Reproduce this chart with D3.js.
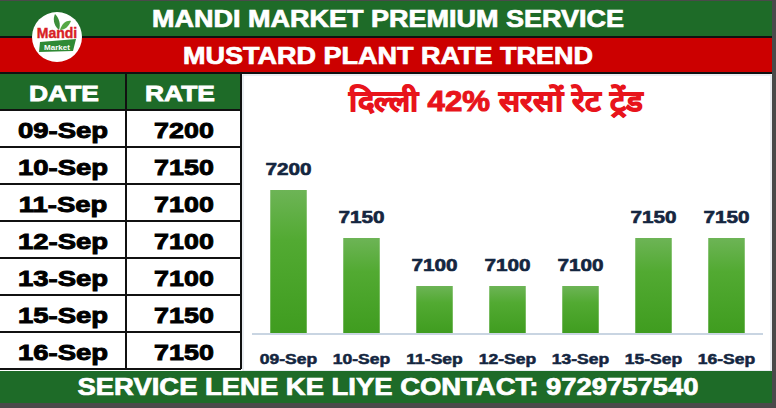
<!DOCTYPE html>
<html>
<head>
<meta charset="utf-8">
<script src="https://d3js.org/d3.v7.min.js"></script>
<style>
  body { margin: 0; background: #fff; }
  svg { display: block; font-family: "Liberation Sans", Arial, sans-serif; }
</style>
</head>
<body>
<svg width="776" height="408"></svg>
<script>
// data
var dates = ["09-Sep", "10-Sep", "11-Sep", "12-Sep", "13-Sep", "15-Sep", "16-Sep"];
var rates = [7200, 7150, 7100, 7100, 7100, 7150, 7150];
var yDomain = [7050, 7250];

var titleTop = "MANDI MARKET PREMIUM SERVICE",
    titleSub = "MUSTARD PLANT RATE TREND",
    chartTitle = "दिल्ली 42% सरसों रेट ट्रेंड",
    footer = "SERVICE LENE KE LIYE CONTACT: 9729757540";

var svg = d3.select("svg");
var green = "#1e6b28", red = "#cc0000";

// the original uses a wide, black-weight face; stretch bold text and thicken it
function heavy(sel, factor, sw) {
  sel.each(function() {
    var w = this.getComputedTextLength();
    d3.select(this).attr("textLength", w * factor).attr("lengthAdjust", "spacingAndGlyphs");
  });
  sel.attr("stroke", function() { return d3.select(this).attr("fill"); })
     .attr("stroke-width", sw).attr("paint-order", "stroke");
  return sel;
}

// frame
svg.append("rect").attr("width", 776).attr("height", 408).attr("fill", "#4a4a4a");
svg.append("rect").attr("x", 0).attr("y", 1).attr("width", 772).attr("height", 402).attr("fill", "#fff");

// header bands
svg.append("rect").attr("x", 0).attr("y", 1).attr("width", 772).attr("height", 35).attr("fill", green);
svg.append("rect").attr("x", 0).attr("y", 36).attr("width", 772).attr("height", 2).attr("fill", "#111");
svg.append("rect").attr("x", 0).attr("y", 38).attr("width", 772).attr("height", 35).attr("fill", red);
svg.append("rect").attr("x", 0).attr("y", 72).attr("width", 772).attr("height", 2).attr("fill", "#111");

svg.append("text").attr("x", 388).attr("y", 27).attr("text-anchor", "middle")
  .attr("fill", "#fff").attr("font-weight", "bold").attr("font-size", 23)
  .attr("stroke", "#fff").attr("stroke-width", 0.7)
  .attr("textLength", 472).attr("lengthAdjust", "spacingAndGlyphs")
  .text(titleTop);
svg.append("text").attr("x", 388).attr("y", 64).attr("text-anchor", "middle")
  .attr("fill", "#fff").attr("font-weight", "bold").attr("font-size", 23)
  .attr("stroke", "#fff").attr("stroke-width", 0.7)
  .attr("textLength", 410).attr("lengthAdjust", "spacingAndGlyphs")
  .text(titleSub);

// logo
var logo = svg.append("g").attr("transform", "translate(57,37)");
logo.append("circle").attr("r", 25).attr("fill", "#fff");
logo.append("path").attr("d", "M2,-7 C-4,-12 -4,-19 -2,-23 C2,-19 4,-13 2,-7Z").attr("fill", "#3b8e3a");
logo.append("path").attr("d", "M3,-7 C5,-14 10,-17 14,-16 C12,-11 8,-7 3,-7Z").attr("fill", "#56a845");
logo.append("text").attr("x", 0).attr("y", 1).attr("text-anchor", "middle")
  .attr("fill", "#d81f26").attr("font-weight", "bold").attr("font-size", 14)
  .attr("stroke", "#d81f26").attr("stroke-width", 0.4).text("Mandi");
logo.append("path").attr("d", "M-17,5 L19,2 L16,14 L-18,15 Z").attr("fill", "#2f8a35");
logo.append("text").attr("x", 0).attr("y", 12.5).attr("text-anchor", "middle")
  .attr("fill", "#fff").attr("font-weight", "bold").attr("font-size", 8).text("Market");

// table
var rowTop = 74, headH = 36, rowH = 37;
var table = svg.append("g");
table.append("rect").attr("x", 0).attr("y", rowTop).attr("width", 240).attr("height", headH).attr("fill", green);
table.append("rect").attr("x", 0).attr("y", rowTop + headH).attr("width", 240).attr("height", rowH * dates.length).attr("fill", "#fff");

[["DATE", 64], ["RATE", 180]].forEach(function(h) {
  heavy(table.append("text").attr("x", h[1]).attr("y", rowTop + 27).attr("text-anchor", "middle")
    .attr("fill", "#fff").attr("font-weight", "bold").attr("font-size", 22).text(h[0]), 1.2, 0.8);
});

var rows = table.selectAll("g.row").data(dates).enter().append("g")
  .attr("transform", function(d, i) { return "translate(0," + (rowTop + headH + i * rowH) + ")"; });
heavy(rows.append("text").attr("x", 63).attr("y", 28).attr("text-anchor", "middle")
  .attr("font-weight", "bold").attr("font-size", 22).attr("fill", "#000")
  .text(function(d) { return d; }), 1.25, 0.9);
heavy(rows.append("text").attr("x", 184).attr("y", 28).attr("text-anchor", "middle")
  .attr("font-weight", "bold").attr("font-size", 22).attr("fill", "#000")
  .text(function(d, i) { return rates[i]; }), 1.22, 0.9);

// grid lines of the table
d3.range(dates.length + 1).forEach(function(i) {
  table.append("line").attr("x1", 0).attr("x2", 241)
    .attr("y1", rowTop + headH + i * rowH).attr("y2", rowTop + headH + i * rowH)
    .attr("stroke", "#111").attr("stroke-width", 2);
});
table.append("line").attr("x1", 126).attr("x2", 126).attr("y1", rowTop).attr("y2", rowTop + headH + rowH * dates.length)
  .attr("stroke", "#111").attr("stroke-width", 2);
table.append("line").attr("x1", 241).attr("x2", 241).attr("y1", rowTop).attr("y2", rowTop + headH + rowH * dates.length)
  .attr("stroke", "#111").attr("stroke-width", 2);

// chart area
svg.append("rect").attr("x", 243).attr("y", 75).attr("width", 528).attr("height", 296)
  .attr("fill", "#fff").attr("stroke", "#d6dde6").attr("stroke-width", 1);

svg.append("text").attr("x", 496).attr("y", 111).attr("text-anchor", "middle")
  .attr("fill", "#e8141b").attr("font-weight", "bold").attr("font-size", 29)
  .attr("stroke", "#e8141b").attr("stroke-width", 1)
  .attr("textLength", 294).attr("lengthAdjust", "spacingAndGlyphs")
  .text(chartTitle);

var x = d3.scaleBand().domain(dates).range([252, 763]).paddingInner(0.5).paddingOuter(0.25);
var y = d3.scaleLinear().domain(yDomain).range([334, 142]);

var defs = svg.append("defs");
var grad = defs.append("linearGradient").attr("id", "barGrad").attr("x1", 0).attr("y1", 0).attr("x2", 0).attr("y2", 1);
grad.append("stop").attr("offset", "0%").attr("stop-color", "#6db456");
grad.append("stop").attr("offset", "35%").attr("stop-color", "#52aa32");
grad.append("stop").attr("offset", "100%").attr("stop-color", "#3f9c1f");

var chart = svg.append("g");
chart.selectAll("rect.bar").data(rates).enter().append("rect")
  .attr("x", function(d, i) { return x(dates[i]); })
  .attr("y", function(d) { return y(d); })
  .attr("width", x.bandwidth())
  .attr("height", function(d) { return y(yDomain[0]) - y(d); })
  .attr("fill", "url(#barGrad)");

heavy(chart.selectAll("text.val").data(rates).enter().append("text")
  .attr("x", function(d, i) { return x(dates[i]) + x.bandwidth() / 2; })
  .attr("y", function(d) { return y(d) - 15; })
  .attr("text-anchor", "middle")
  .attr("fill", "#142640").attr("font-weight", "bold").attr("font-size", 17)
  .text(function(d) { return d; }), 1.22, 0.6);

var xAxis = svg.append("g").attr("transform", "translate(0," + y(yDomain[0]) + ")")
  .call(d3.axisBottom(x).tickSize(0).tickPadding(20));
xAxis.select(".domain").attr("stroke", "#c9d5e2").attr("stroke-width", 2).attr("d", "M252,0H763");
heavy(xAxis.selectAll("text").attr("fill", "#142640").attr("font-weight", "bold").attr("font-size", 14)
  .attr("font-family", "Liberation Sans, Arial, sans-serif"), 1.25, 0.5);

// footer
svg.append("rect").attr("x", 0).attr("y", 371).attr("width", 772).attr("height", 32).attr("fill", green);
svg.append("text").attr("x", 388).attr("y", 395).attr("text-anchor", "middle")
  .attr("fill", "#fff").attr("font-weight", "bold").attr("font-size", 23)
  .attr("stroke", "#fff").attr("stroke-width", 0.7)
  .attr("textLength", 621).attr("lengthAdjust", "spacingAndGlyphs")
  .text(footer);
</script>
</body>
</html>
